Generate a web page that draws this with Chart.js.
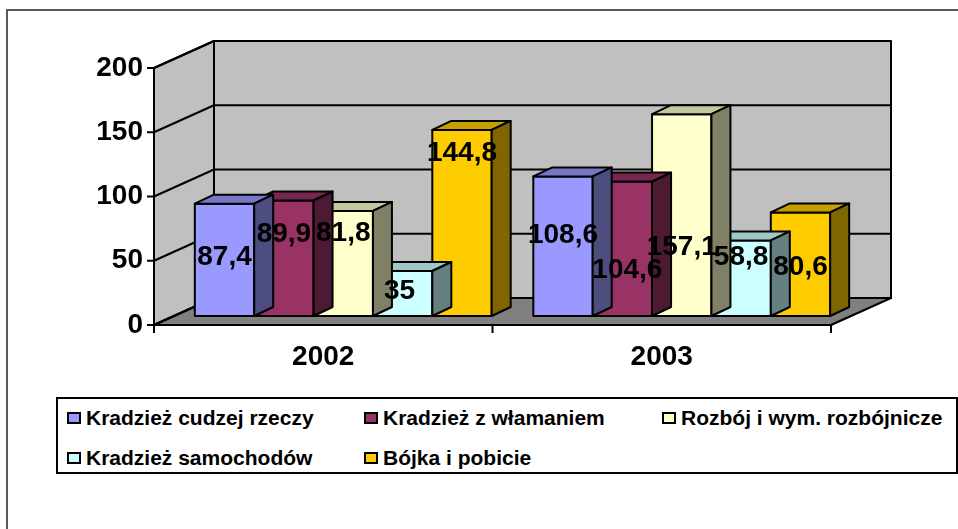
<!DOCTYPE html>
<html>
<head>
<meta charset="utf-8">
<script src="https://cdn.jsdelivr.net/npm/chart.js@4"></script>
<style>
  body { margin: 0; background: #fff; font-family: "Liberation Sans", Arial, sans-serif; }
  #frame { position: absolute; left: 6px; top: 9px; width: 1000px; height: 1000px; border: 2px solid #5a5a5a; }
  #chart { position: absolute; left: 0; top: 0; }
  #legend { position: absolute; left: 56px; top: 397px; width: 898px; height: 73px; border: 2px solid #000; background: #fff; }
  .item { position: absolute; display: flex; align-items: center; height: 24px; font-weight: bold; font-size: 21px; color: #000; white-space: nowrap; }
  .sw { width: 14px; height: 12px; border: 2px solid #000; box-sizing: border-box; margin-right: 5px; }
</style>
</head>
<body>
<div id="frame"></div>
<canvas id="chart" width="958" height="529"></canvas>
<div id="legend"></div>
<script>
// data
let years = ["2002", "2003"]
let seriesNames = [
  "Kradzież cudzej rzeczy",
  "Kradzież z włamaniem",
  "Rozbój i wym. rozbójnicze",
  "Kradzież samochodów",
  "Bójka i pobicie",
]
let cudzejRzeczy = [87.4, 108.6]
let zWlamaniem = [89.9, 104.6]
let rozboj = [81.8, 157.1]
let samochody = [35, 58.8]
let bojka = [144.8, 80.6]
let yTicks = [0, 50, 100, 150, 200]

let seriesValues = [cudzejRzeczy, zWlamaniem, rozboj, samochody, bojka]
let barColors = ["#9999FF", "#993366", "#FFFFCC", "#CCFFFF", "#FFCC00"]

// label placement tweaks (px), per series, per year
let labelNudgeX = [[0, 0], [0, 5], [0, 0], [-3, 0], [0, 0]]
let labelNudgeY = [[-3, -11], [-24, 21], [-30, 32], [-2, -21], [-70, 3]]

const FONT = "'Liberation Sans', Arial, sans-serif"
const wallDepth = { x: 60, y: -27 }
const barShift = { x: 20, y: -9 }
const barDepth = { x: 19, y: -9 }

function shade(hex, f) {
  let n = parseInt(hex.slice(1), 16)
  let r = Math.round(((n >> 16) & 255) * f)
  let g = Math.round(((n >> 8) & 255) * f)
  let b = Math.round((n & 255) * f)
  return `rgb(${r},${g},${b})`
}

function poly(ctx, pts, fill) {
  ctx.beginPath()
  ctx.moveTo(pts[0][0], pts[0][1])
  pts.slice(1).forEach(p => ctx.lineTo(p[0], p[1]))
  ctx.closePath()
  if (fill) { ctx.fillStyle = fill; ctx.fill() }
  ctx.stroke()
}

function line(ctx, pts) {
  ctx.beginPath()
  ctx.moveTo(pts[0][0], pts[0][1])
  pts.slice(1).forEach(p => ctx.lineTo(p[0], p[1]))
  ctx.stroke()
}

let box3d = {
  id: "box3d",
  beforeDatasetsDraw(chart) {
    let { ctx, chartArea: a, scales } = chart
    let dx = wallDepth.x, dy = wallDepth.y
    ctx.save()
    ctx.lineWidth = 2
    ctx.strokeStyle = "#000"
    ctx.lineJoin = "round"
    poly(ctx, [[a.left + dx, a.top + dy], [a.right + dx, a.top + dy], [a.right + dx, a.bottom + dy], [a.left + dx, a.bottom + dy]], "#c0c0c0")
    poly(ctx, [[a.left, a.top], [a.left + dx, a.top + dy], [a.left + dx, a.bottom + dy], [a.left, a.bottom]], "#c0c0c0")
    poly(ctx, [[a.left, a.bottom], [a.right, a.bottom], [a.right + dx, a.bottom + dy], [a.left + dx, a.bottom + dy]], "#808080")
    yTicks.forEach(v => {
      let py = scales.y.getPixelForValue(v)
      line(ctx, [[a.left - 7, py], [a.left, py], [a.left + dx, py + dy], [a.right + dx, py + dy]])
    })
    let mid = (scales.x.getPixelForValue(0) + scales.x.getPixelForValue(1)) / 2
    ;[a.left, mid, a.right].forEach(px => line(ctx, [[px, a.bottom], [px, a.bottom + 8]]))
    ctx.restore()
  },
  beforeDatasetDraw(chart) {
    chart.ctx.save()
    chart.ctx.translate(barShift.x, barShift.y)
  },
  afterDatasetDraw(chart, args) {
    let ctx = chart.ctx
    let color = barColors[args.index]
    ctx.lineWidth = 2
    ctx.strokeStyle = "#000"
    ctx.lineJoin = "round"
    args.meta.data.forEach(el => {
      let { x, y, base, width } = el.getProps(["x", "y", "base", "width"], true)
      let l = x - width / 2, r = x + width / 2
      let bx = barDepth.x, by = barDepth.y
      poly(ctx, [[l, y], [r, y], [r, base], [l, base]])
      poly(ctx, [[l, y], [l + bx, y + by], [r + bx, y + by], [r, y]], shade(color, 0.78))
      poly(ctx, [[r, y], [r + bx, y + by], [r + bx, base + by], [r, base]], shade(color, 0.5))
    })
    ctx.restore()
  },
  afterDatasetsDraw(chart) {
    let ctx = chart.ctx
    ctx.save()
    ctx.translate(barShift.x, barShift.y)
    ctx.font = "bold 28px " + FONT
    ctx.fillStyle = "#000"
    ctx.textAlign = "center"
    ctx.textBaseline = "middle"
    chart.data.datasets.forEach((ds, i) => {
      chart.getDatasetMeta(i).data.forEach((el, j) => {
        let { x, y, base } = el.getProps(["x", "y", "base"], true)
        let txt = String(ds.data[j]).replace(".", ",")
        ctx.fillText(txt, x + labelNudgeX[i][j], (y + base) / 2 + labelNudgeY[i][j])
      })
    })
    ctx.restore()
  },
}

let aChart = new Chart(document.getElementById("chart"), {
  type: "bar",
  data: {
    labels: years,
    datasets: seriesNames.map((name, i) => ({
      label: name,
      data: seriesValues[i],
      backgroundColor: barColors[i],
      borderWidth: 0,
      clip: false,
      categoryPercentage: 0.877,
      barPercentage: 1,
    })),
  },
  options: {
    responsive: false,
    animation: false,
    layout: { padding: { left: 0, top: 68, right: 127, bottom: 0 } },
    plugins: { legend: { display: false }, tooltip: { enabled: false } },
    scales: {
      x: {
        grid: { display: false },
        border: { display: false },
        ticks: { color: "#000", padding: 7, font: { family: FONT, size: 28, weight: "bold" } },
        afterFit(s) { s.height = 204 },
      },
      y: {
        min: 0,
        max: 200,
        grid: { display: false },
        border: { display: false },
        ticks: { stepSize: 50, color: "#000", padding: 3, font: { family: FONT, size: 28, weight: "bold" } },
        afterFit(s) { s.width = 154 },
      },
    },
  },
  plugins: [box3d],
})

// legend laid out as in the original, 3 columns
let legend = document.getElementById("legend")
let colX = [67, 364, 662]
let rowY = [418, 458]
seriesNames.forEach((name, i) => {
  let item = document.createElement("div")
  item.className = "item"
  item.style.left = (colX[i % 3] - 58) + "px"
  item.style.top = (rowY[Math.floor(i / 3)] - 12 - 399) + "px"
  let sw = document.createElement("span")
  sw.className = "sw"
  sw.style.background = barColors[i]
  item.appendChild(sw)
  item.appendChild(document.createTextNode(name))
  legend.appendChild(item)
})
</script>
</body>
</html>
